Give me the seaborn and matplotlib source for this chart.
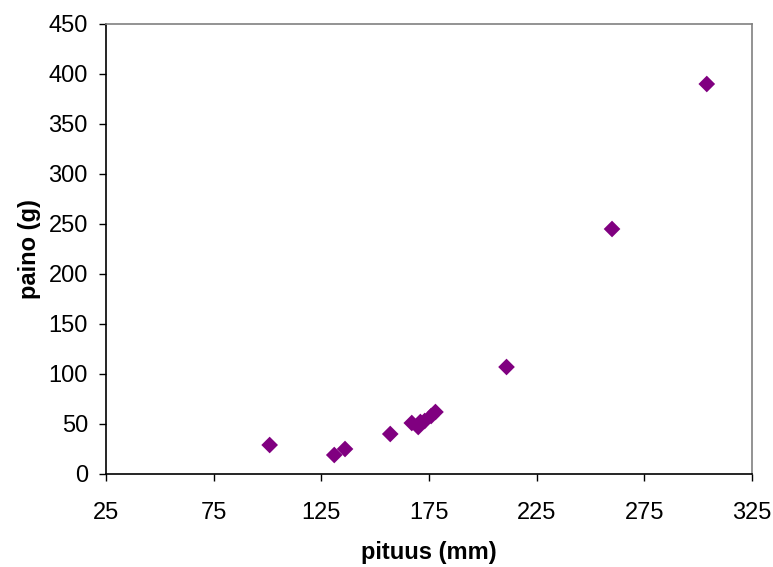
import numpy as np
import pandas as pd

import matplotlib
matplotlib.use('Agg')

import matplotlib.pyplot as plt
import seaborn as sns

# pituus (mm) vs paino (g)
pituus = [101, 131, 136, 157, 167, 170, 171, 173, 176, 178, 211, 260, 304]
paino = [29, 19, 25, 40, 51, 47, 52, 53, 58, 62, 107, 245, 390]

x_ticks = [25, 75, 125, 175, 225, 275, 325]
y_ticks = [0, 50, 100, 150, 200, 250, 300, 350, 400, 450]

df = pd.DataFrame({"pituus": pituus, "paino": paino})

sns.set_theme(style="white")
plt.rcParams['font.family'] = ['Liberation Sans', 'DejaVu Sans']

W, H = 773, 567
fig = plt.figure(figsize=(W / 100, H / 100), dpi=100)
# plot area in pixels: left 106, right 752, top 24, bottom 474
ax = fig.add_axes([106 / W, 1 - 474 / H, 646 / W, 450 / H])

sns.scatterplot(data=df, x="pituus", y="paino", marker="D", s=72,
                color="#800080", edgecolor="none", ax=ax)

ax.set_xlim(25, 325)
ax.set_ylim(0, 450)
ax.set_xticks(x_ticks)
ax.set_yticks(y_ticks)
ax.tick_params(axis="both", labelsize=17, length=5, width=1, direction="out",
               colors="black", bottom=True, left=True)
ax.tick_params(axis="x", pad=15)
ax.tick_params(axis="y", pad=8)

ax.set_xlabel("pituus (mm)", fontsize=17, fontweight="bold", color="black")
ax.set_ylabel("paino (g)", fontsize=17, fontweight="bold", color="black")
ax.xaxis.set_label_coords(0.5, (474 - 552) / 450)
ax.xaxis.label.set_va("center")
ax.yaxis.set_label_coords((30 - 106) / 646, 0.5)
ax.yaxis.label.set_rotation_mode("default")
ax.yaxis.label.set_va("center")
ax.yaxis.label.set_ha("center")

for side in ["left", "bottom"]:
    ax.spines[side].set_color("black")
    ax.spines[side].set_linewidth(1.2)
for side in ["top", "right"]:
    ax.spines[side].set_color("#808080")
    ax.spines[side].set_linewidth(1.2)

fig.savefig("out.png", dpi=100)
plt.close()
